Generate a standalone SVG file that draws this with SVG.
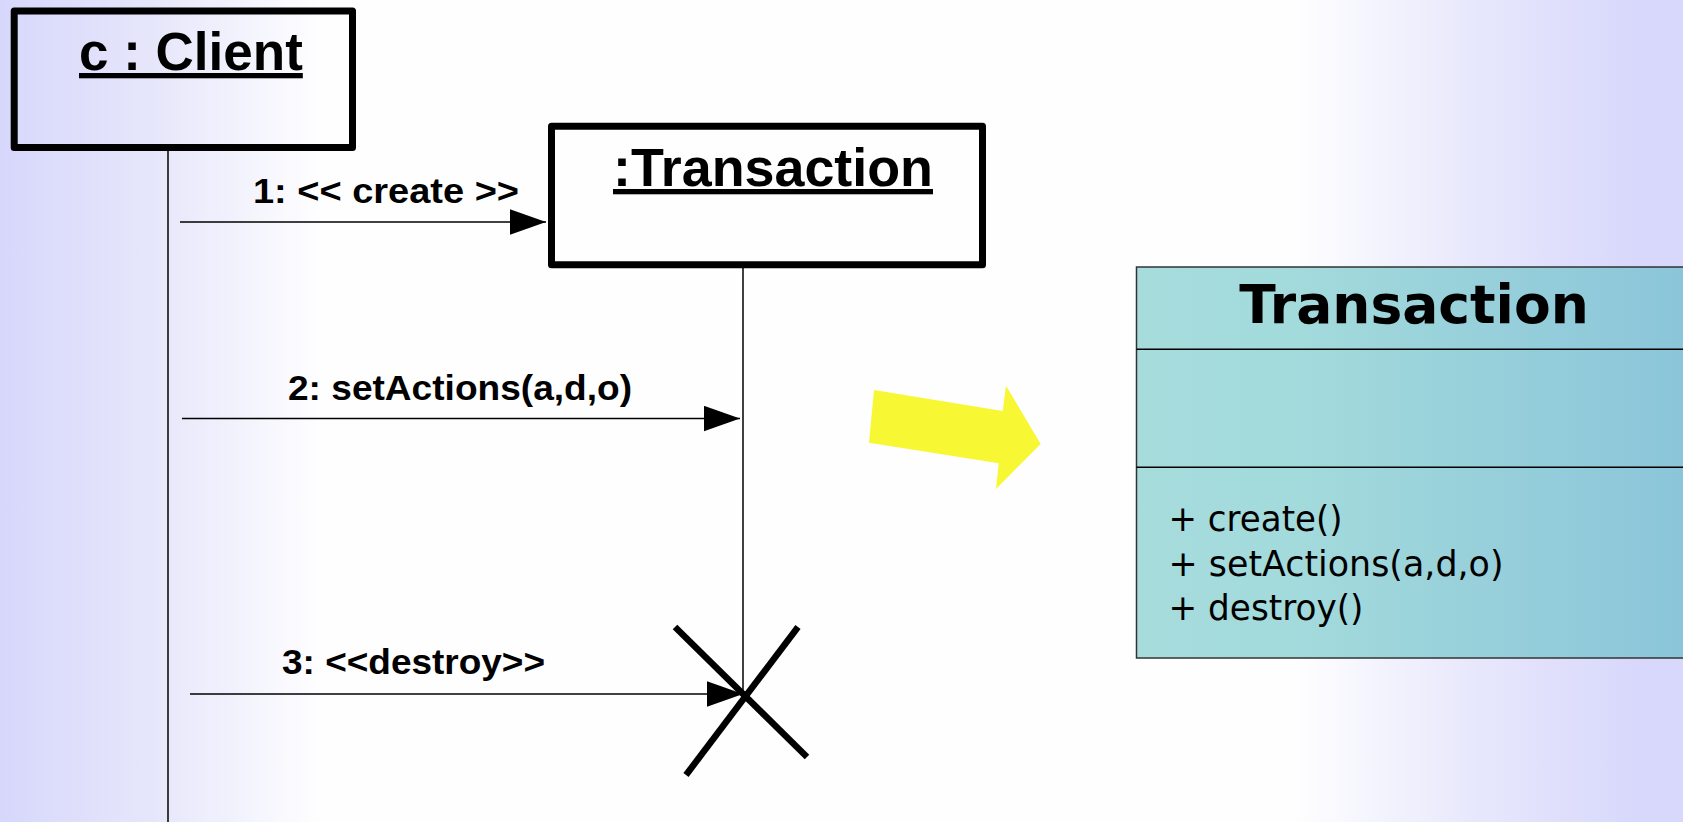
<svg xmlns="http://www.w3.org/2000/svg" width="1683" height="822" viewBox="0 0 1683 822">
  <defs>
    <linearGradient id="bg" x1="0" y1="0" x2="1683" y2="0" gradientUnits="userSpaceOnUse">
      <stop offset="0" stop-color="#d7d7fc"/>
      <stop offset="0.09" stop-color="#e6e6fb"/>
      <stop offset="0.19" stop-color="#fefeff"/>
      <stop offset="0.77" stop-color="#fefeff"/>
      <stop offset="0.88" stop-color="#e7e7fc"/>
      <stop offset="0.97" stop-color="#d8d8fc"/>
      <stop offset="1" stop-color="#d8d8fc"/>
    </linearGradient>
    <linearGradient id="classFill" x1="1136" y1="0" x2="1683" y2="0" gradientUnits="userSpaceOnUse">
      <stop offset="0" stop-color="#a6dcdc"/>
      <stop offset="0.3" stop-color="#a3dadc"/>
      <stop offset="1" stop-color="#8bc5d9"/>
    </linearGradient>
    <marker id="head" markerUnits="userSpaceOnUse" markerWidth="36" markerHeight="26" viewBox="0 0 34 24" refX="34" refY="12" orient="auto">
      <path d="M0,0 L34,12 L0,24 Z" fill="#000"/>
    </marker>
  </defs>
  <style>
    .obj { fill: none; stroke: #000; stroke-width: 7; stroke-linejoin: round; }
    .objname { font-family: "Liberation Sans", Arial, sans-serif; font-weight: bold; font-size: 53px; fill: #000; text-decoration: underline; }
    .life { stroke: #000; stroke-width: 1.5; fill: none; }
    .msg { stroke: #000; stroke-width: 1.3; fill: none; marker-end: url(#head); }
    .msglabel { font-family: "Liberation Sans", Arial, sans-serif; font-weight: bold; font-size: 34.5px; fill: #000; }
    .cross { stroke: #000; stroke-width: 6.5; fill: none; }
    .cls { fill: url(#classFill); stroke: #333; stroke-width: 1.5; }
    .sep { stroke: #000; stroke-width: 1.5; }
    .clsname { font-family: "DejaVu Sans", Verdana, sans-serif; font-weight: bold; font-size: 53.5px; fill: #000; }
    .op { font-family: "DejaVu Sans", Verdana, sans-serif; font-size: 36px; fill: #000; }
  </style>

  <!-- background -->
  <rect x="0" y="0" width="1683" height="822" fill="url(#bg)"/>

  <!-- client object and lifeline -->
  <g id="client">
    <rect class="obj" x="14.2" y="11" width="338.3" height="136.5"/>
    <text class="objname" x="79" y="70">c : Client</text>
    <line class="life" x1="168" y1="151" x2="168" y2="822"/>
  </g>

  <!-- transaction object, lifeline and destruction mark -->
  <g id="transaction">
    <rect class="obj" x="551.5" y="126.3" width="431" height="138.5"/>
    <text class="objname" x="613" y="186" textLength="320" lengthAdjust="spacingAndGlyphs">:Transaction</text>
    <line class="life" x1="743" y1="266" x2="743" y2="694"/>
    <line class="cross" x1="675" y1="627" x2="807" y2="757"/>
    <line class="cross" x1="798" y1="627" x2="686" y2="775"/>
  </g>

  <!-- messages -->
  <g id="messages">
    <line class="msg" x1="180" y1="222" x2="546" y2="222"/>
    <text class="msglabel" x="253" y="203" textLength="266" lengthAdjust="spacingAndGlyphs">1: &lt;&lt; create &gt;&gt;</text>
    <line class="msg" x1="182" y1="418.5" x2="740" y2="418.5"/>
    <text class="msglabel" x="288" y="400" textLength="344" lengthAdjust="spacingAndGlyphs">2: setActions(a,d,o)</text>
    <line class="msg" x1="190" y1="694" x2="743" y2="694"/>
    <text class="msglabel" x="282" y="674" textLength="263" lengthAdjust="spacingAndGlyphs">3: &lt;&lt;destroy&gt;&gt;</text>
  </g>

  <!-- block arrow -->
  <g id="bigArrow">
    <polygon points="874,390 1002.7,411 1006,385.7 1040.7,444 996,489 998.7,463.3 869,442.7" fill="#f7f734"/>
  </g>

  <!-- class box -->
  <g id="transactionClass">
    <rect class="cls" x="1136.5" y="267" width="560" height="391"/>
    <line class="sep" x1="1136.5" y1="349.3" x2="1683" y2="349.3"/>
    <line class="sep" x1="1136.5" y1="467.3" x2="1683" y2="467.3"/>
    <text class="clsname" x="1414" y="323" text-anchor="middle">Transaction</text>
    <text class="op" x="1168.5" y="531" textLength="174" lengthAdjust="spacingAndGlyphs">+ create()</text>
    <text class="op" x="1168.5" y="576" textLength="335" lengthAdjust="spacingAndGlyphs">+ setActions(a,d,o)</text>
    <text class="op" x="1168.5" y="620" textLength="195" lengthAdjust="spacingAndGlyphs">+ destroy()</text>
  </g>
</svg>
